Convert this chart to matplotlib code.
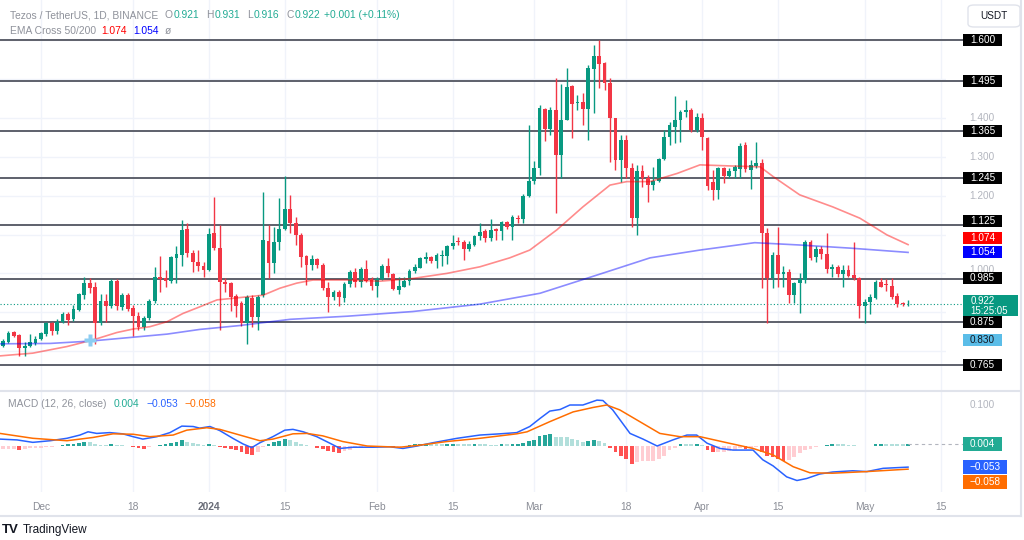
import matplotlib
matplotlib.use("Agg")
import matplotlib.pyplot as plt
import numpy as np
from matplotlib.patches import Rectangle, FancyBboxPatch
from matplotlib.lines import Line2D
from matplotlib.transforms import blended_transform_factory

# daily candles, 24 Nov 2023 .. 9 May 2024
opens = [
    0.814, 0.823, 0.849, 0.842, 0.809, 0.814, 0.820, 0.832, 0.843, 0.872,
    0.853, 0.876, 0.896, 0.882, 0.906, 0.944, 0.975, 0.964, 0.873, 0.930,
    0.917, 0.980, 0.914, 0.944, 0.910, 0.891, 0.863, 0.885, 0.929, 0.992,
    0.988, 0.980, 1.039, 1.047, 1.113, 1.053, 1.030, 1.019, 1.009, 1.103,
    1.066, 0.977, 0.975, 0.942, 0.924, 0.872, 0.938, 0.888, 0.944, 1.084,
    1.026, 1.082, 1.113, 1.165, 1.129, 1.100, 1.045, 1.022, 1.036, 1.022,
    0.962, 0.939, 0.953, 0.936, 0.973, 1.004, 0.979, 1.011, 0.985, 0.968,
    0.985, 1.019, 0.998, 0.957, 0.966, 0.980, 1.006, 1.015, 1.036, 1.041,
    1.033, 1.044, 1.045, 1.070, 1.082, 1.082, 1.062, 1.073, 1.095, 1.110,
    1.090, 1.115, 1.108, 1.131, 1.119, 1.142, 1.141, 1.200, 1.238, 1.270,
    1.422, 1.371, 1.420, 1.304, 1.394, 1.483, 1.437, 1.441, 1.423, 1.525,
    1.560, 1.540, 1.490, 1.399, 1.292, 1.343, 1.270, 1.142, 1.263, 1.244,
    1.227, 1.238, 1.294, 1.350, 1.377, 1.394, 1.414, 1.420, 1.369, 1.400,
    1.349, 1.236, 1.215, 1.270, 1.250, 1.262, 1.268, 1.330, 1.266, 1.277,
    1.283, 1.103, 0.987, 1.047, 0.998, 1.004, 0.944, 0.975, 0.983, 1.082,
    1.041, 1.064, 1.050, 1.011, 1.016, 0.998, 1.009, 0.996, 0.987, 0.916,
    0.926, 0.936, 0.979, 0.972, 0.968, 0.942, 0.924, 0.921]
highs = [
    0.831, 0.853, 0.852, 0.845, 0.824, 0.844, 0.838, 0.850, 0.875, 0.875,
    0.884, 0.900, 0.900, 0.920, 0.950, 0.992, 0.988, 0.978, 0.948, 0.948,
    0.985, 0.985, 0.950, 0.950, 0.918, 0.900, 0.891, 0.935, 1.017, 1.045,
    1.010, 1.045, 1.071, 1.137, 1.130, 1.060, 1.060, 1.030, 1.117, 1.196,
    1.124, 0.988, 0.979, 0.946, 0.928, 0.944, 0.945, 0.945, 1.210, 1.124,
    1.120, 1.193, 1.250, 1.201, 1.146, 1.104, 1.047, 1.047, 1.040, 1.026,
    0.979, 0.957, 0.957, 0.979, 1.009, 1.014, 1.017, 1.034, 0.992, 0.991,
    1.023, 1.039, 1.000, 0.991, 0.991, 1.011, 1.025, 1.042, 1.056, 1.044,
    1.052, 1.060, 1.073, 1.099, 1.094, 1.086, 1.083, 1.099, 1.130, 1.115,
    1.140, 1.118, 1.136, 1.136, 1.150, 1.150, 1.205, 1.381, 1.290, 1.433,
    1.425, 1.429, 1.502, 1.486, 1.527, 1.484, 1.459, 1.463, 1.536, 1.587,
    1.600, 1.544, 1.503, 1.400, 1.356, 1.356, 1.283, 1.279, 1.279, 1.253,
    1.274, 1.296, 1.369, 1.388, 1.456, 1.420, 1.446, 1.424, 1.412, 1.412,
    1.351, 1.266, 1.274, 1.274, 1.270, 1.278, 1.335, 1.339, 1.292, 1.339,
    1.295, 1.116, 1.056, 1.120, 1.020, 1.011, 0.979, 1.002, 1.086, 1.086,
    1.070, 1.070, 1.105, 1.024, 1.022, 1.022, 1.022, 1.082, 0.991, 0.934,
    0.946, 0.982, 0.987, 0.985, 0.987, 0.949, 0.926, 0.931]
lows = [
    0.812, 0.820, 0.837, 0.788, 0.788, 0.812, 0.816, 0.829, 0.840, 0.842,
    0.843, 0.872, 0.867, 0.878, 0.903, 0.935, 0.950, 0.818, 0.868, 0.875,
    0.912, 0.905, 0.905, 0.903, 0.839, 0.855, 0.855, 0.880, 0.925, 0.953,
    0.966, 0.975, 0.975, 1.019, 1.043, 1.004, 1.006, 0.990, 1.006, 1.060,
    0.855, 0.953, 0.904, 0.888, 0.865, 0.818, 0.862, 0.854, 0.940, 0.988,
    1.000, 1.060, 1.112, 1.104, 1.073, 1.017, 0.970, 1.009, 1.015, 0.957,
    0.902, 0.932, 0.916, 0.927, 0.966, 0.966, 0.966, 0.979, 0.957, 0.940,
    0.983, 0.992, 0.957, 0.947, 0.964, 0.970, 1.000, 1.013, 1.026, 1.026,
    1.013, 1.018, 1.025, 1.064, 1.074, 1.034, 1.058, 1.070, 1.087, 1.080,
    1.083, 1.085, 1.086, 1.115, 1.086, 1.130, 1.130, 1.197, 1.230, 1.253,
    1.340, 1.356, 1.155, 1.244, 1.394, 1.347, 1.420, 1.381, 1.343, 1.412,
    1.476, 1.471, 1.287, 1.266, 1.236, 1.244, 1.120, 1.099, 1.223, 1.184,
    1.214, 1.236, 1.292, 1.330, 1.334, 1.339, 1.403, 1.364, 1.364, 1.317,
    1.214, 1.189, 1.191, 1.232, 1.245, 1.245, 1.245, 1.261, 1.216, 1.272,
    0.962, 0.872, 0.962, 0.966, 0.966, 0.923, 0.923, 0.899, 0.975, 1.034,
    1.029, 1.038, 1.002, 0.990, 0.990, 0.964, 0.990, 0.983, 0.885, 0.872,
    0.895, 0.934, 0.964, 0.955, 0.935, 0.913, 0.916, 0.916]
closes = [
    0.826, 0.846, 0.840, 0.809, 0.814, 0.824, 0.831, 0.846, 0.873, 0.853,
    0.876, 0.896, 0.880, 0.908, 0.946, 0.976, 0.962, 0.873, 0.930, 0.917,
    0.980, 0.915, 0.944, 0.908, 0.891, 0.863, 0.885, 0.929, 0.992, 0.985,
    0.980, 1.041, 1.050, 1.112, 1.053, 1.030, 1.019, 1.009, 1.101, 1.066,
    0.979, 0.973, 0.940, 0.916, 0.872, 0.940, 0.888, 0.940, 1.086, 1.027,
    1.082, 1.113, 1.165, 1.129, 1.100, 1.043, 1.022, 1.036, 1.022, 0.962,
    0.940, 0.953, 0.939, 0.973, 1.004, 0.979, 1.011, 0.981, 0.968, 0.985,
    1.019, 1.000, 0.960, 0.968, 0.980, 1.007, 1.016, 1.039, 1.041, 1.033,
    1.047, 1.047, 1.070, 1.077, 1.081, 1.062, 1.075, 1.095, 1.107, 1.090,
    1.112, 1.108, 1.131, 1.119, 1.144, 1.140, 1.200, 1.238, 1.270, 1.424,
    1.371, 1.420, 1.304, 1.394, 1.480, 1.435, 1.440, 1.423, 1.527, 1.560,
    1.538, 1.489, 1.399, 1.292, 1.343, 1.270, 1.142, 1.263, 1.246, 1.227,
    1.238, 1.294, 1.350, 1.381, 1.394, 1.414, 1.420, 1.369, 1.403, 1.351,
    1.225, 1.215, 1.270, 1.250, 1.264, 1.273, 1.328, 1.268, 1.279, 1.283,
    1.103, 0.987, 1.047, 0.998, 1.004, 0.944, 0.975, 0.985, 1.082, 1.039,
    1.064, 1.050, 1.011, 1.017, 0.998, 1.009, 0.993, 0.987, 0.916, 0.927,
    0.939, 0.979, 0.966, 0.970, 0.940, 0.921, 0.921, 0.922]

# EMA lines, sampled at candle positions
ema50_idx = [-0.55, 5.5, 11.8, 16.6, 21.0, 24.0, 27.1, 30.3, 33.2, 36.3, 39.5, 42.4,
             48.0, 51.1, 54.2, 57.2, 63.5, 69.6, 75.6, 81.9, 88.0, 93.5, 97.2, 102.2,
             107.0, 112.0, 115.1, 119.4, 124.4, 128.6, 134.7, 139.7, 142.1, 147.0,
             153.1, 158.1, 163.1, 167]
ema50_val = [0.788, 0.795, 0.812, 0.829, 0.848, 0.857, 0.863, 0.876, 0.897, 0.914, 0.932, 0.936,
             0.944, 0.962, 0.975, 0.983, 0.983, 0.980, 0.987, 1.000, 1.017, 1.040, 1.060, 1.112,
             1.171, 1.227, 1.236, 1.236, 1.257, 1.279, 1.276, 1.274, 1.249, 1.202,
             1.171, 1.142, 1.099, 1.074]
ema200_idx = [-0.55, 8.7, 16.1, 24.0, 30.3, 36.3, 43.7, 53.0, 63.5, 75.6, 88.0, 99.1,
              110.1, 119.4, 128.6, 138.7, 147.0, 156.3, 167]
ema200_val = [0.819, 0.820, 0.826, 0.836, 0.844, 0.856, 0.866, 0.882, 0.890, 0.902, 0.921, 0.949,
              0.998, 1.040, 1.060, 1.079, 1.073, 1.065, 1.054]

levels = [1.600, 1.495, 1.365, 1.245, 1.125, 0.985, 0.875, 0.765]
price_ticks = [1.400, 1.300, 1.200, 1.000]

# MACD pane
macd_hist = [
    -0.009, -0.009, -0.008, -0.012, -0.009, -0.007, -0.006, -0.005, -0.004, -0.003,
    -0.002, 0.002, 0.004, 0.005, 0.007, 0.010, 0.010, 0.004, 0.002, 0.002,
    0.004, 0.001, 0.001, -0.002, -0.004, -0.007, -0.008, -0.004, -0.001, 0.002,
    0.004, 0.006, 0.008, 0.013, 0.009, 0.006, 0.004, 0.002, 0.004, 0.001,
    -0.003, -0.005, -0.008, -0.010, -0.015, -0.020, -0.023, -0.015, -0.003, 0.003,
    0.008, 0.012, 0.016, 0.015, 0.010, 0.004, 0.001, -0.002, -0.005, -0.009,
    -0.013, -0.016, -0.018, -0.014, -0.010, -0.006, -0.004, -0.002, -0.003, -0.002,
    -0.001, -0.003, -0.004, -0.003, -0.001, 0.002, 0.003, 0.004, 0.005, 0.005,
    0.004, 0.003, 0.004, 0.005, 0.004, 0.003, 0.003, 0.004, 0.004, 0.003,
    0.002, 0.002, 0.003, 0.003, 0.004, 0.005, 0.007, 0.011, 0.014, 0.023,
    0.027, 0.029, 0.021, 0.021, 0.020, 0.016, 0.014, 0.008, 0.012, 0.014,
    0.012, 0.006, -0.006, -0.016, -0.025, -0.033, -0.045, -0.041, -0.039, -0.038,
    -0.037, -0.033, -0.025, -0.012, -0.006, 0.004, 0.004, 0.003, 0.004, 0.001,
    -0.012, -0.016, -0.016, -0.015, -0.013, -0.010, -0.006, -0.008, -0.006, -0.004,
    -0.016, -0.025, -0.029, -0.033, -0.037, -0.035, -0.027, -0.019, -0.012, -0.008,
    -0.004, -0.002, 0.002, 0.003, 0.003, 0.003, 0.002, 0.001, -0.002, -0.002,
    -0.001, 0.003, 0.004, 0.004, 0.003, 0.003, 0.003, 0.004]
macd_idx = [-0.55, 2.6, 5.5, 8.7, 11.8, 14.2, 15.7, 17.3, 19.7, 22.1, 24.0, 25.8, 28.4,
            30.8, 33.0, 35.1, 36.3, 38.2, 40.0, 42.4, 44.3, 45.9, 47.4, 49.8, 52.0, 53.5,
            55.4, 57.9, 60.3, 62.2, 64.6, 68.3, 71.4, 73.8, 76.4, 79.3, 83.8, 88.0, 91.7,
            94.8, 97.2, 99.1, 100.9, 102.8, 104.6, 107.0, 109.6, 110.7, 112.5, 115.7,
            118.1, 120.7, 123.6, 126.2, 128.0, 129.9, 132.3, 134.7, 138.4, 140.2, 142.1,
            144.6, 146.5, 148.3, 150.7, 153.1, 156.8, 159.4, 162.4, 167]
macd_val = [0.016, 0.014, 0.008, 0.012, 0.018, 0.026, 0.034, 0.030, 0.032, 0.029, 0.022, 0.016, 0.022,
            0.032, 0.048, 0.047, 0.043, 0.047, 0.037, 0.018, 0.004, -0.005, 0.007, 0.022, 0.038, 0.040,
            0.034, 0.022, 0.006, -0.007, -0.004, -0.004, -0.003, -0.007, -0.001, 0.007, 0.018, 0.026, 0.029,
            0.032, 0.047, 0.067, 0.085, 0.089, 0.100, 0.100, 0.112, 0.111, 0.088, 0.030,
            0.016, -0.001, 0.014, 0.026, 0.026, 0.006, -0.007, -0.011, -0.011, -0.035, -0.050,
            -0.077, -0.086, -0.081, -0.070, -0.065, -0.062, -0.064, -0.056, -0.053]
signal_idx = [-0.55, 5.5, 11.8, 16.6, 20.3, 24.0, 27.1, 31.4, 33.9, 37.6, 40.0, 43.7, 47.4,
              49.8, 53.5, 56.1, 59.0, 62.7, 67.2, 73.2, 76.9, 81.9, 88.0, 94.8, 96.7, 100.9,
              105.2, 108.9, 111.4, 113.8, 117.5, 121.2, 124.9, 128.6, 133.6, 138.4, 142.1,
              145.8, 148.9, 153.1, 159.4, 167]
signal_val = [0.030, 0.018, 0.012, 0.020, 0.029, 0.028, 0.022, 0.026, 0.038, 0.044, 0.040, 0.026, 0.012,
              0.016, 0.029, 0.030, 0.024, 0.010, -0.001, -0.004, 0.001, 0.010, 0.018, 0.029, 0.034, 0.059,
              0.083, 0.094, 0.100, 0.088, 0.059, 0.030, 0.022, 0.022, 0.007, -0.007, -0.023,
              -0.052, -0.067, -0.068, -0.064, -0.058]

tick_pos = [7, 24, 38, 52, 69, 83, 98, 115, 129, 143, 159, 173]
tick_lbl = ["Dec", "18", "2024", "15", "Feb", "15", "Mar", "18", "Apr", "15", "May", "15"]

GREEN = "#089981"
RED = "#f23645"
GRAY = "#8f929b"
AXGRAY = "#b2b5be"

plt.rcParams["font.family"] = ["Liberation Sans", "DejaVu Sans"]

W, H = 1024, 540
fig = plt.figure(figsize=(W / 100, H / 100), dpi=100)
fig.patch.set_facecolor("white")

ax = fig.add_axes([0, 150 / H, 946 / W, 390 / H])
axm = fig.add_axes([0, 48 / H, 946 / W, 101 / H])
for a in (ax, axm):
    a.set_xlim(-0.55, 174.0)
    for s in a.spines.values():
        s.set_visible(False)
    a.set_yticks([])
    for t in tick_pos:
        a.axvline(t, color="#f0f3fa", lw=1, zorder=0)
ax.set_ylim(0.7003, 1.7028)
axm.set_ylim(-0.1143, 0.1345)
ax.set_xticks([])
for g in np.arange(0.8, 1.65, 0.1):
    ax.axhline(g, color="#f0f3fa", lw=1, zorder=0)

blend = blended_transform_factory(fig.transFigure, ax.transData)

# candles
o = np.array(opens); hi = np.array(highs); lo = np.array(lows); c = np.array(closes)
idx = np.arange(len(c))
cols = np.where(c >= o, GREEN, RED)
ax.vlines(idx, lo, hi, colors=cols, lw=1, zorder=3)
ax.bar(idx, np.maximum(np.abs(c - o), 0.0015), 0.7, bottom=np.minimum(o, c),
       color=cols, linewidth=0, zorder=4)

ax.plot(ema50_idx, ema50_val, color="#ff0000", alpha=0.45, lw=1.2, zorder=5)
ax.plot(ema200_idx, ema200_val, color="#0000ff", alpha=0.45, lw=1.2, zorder=5)
ax.plot(16, 0.830, marker="P", ms=9, color="#8ccdf2", mec="none", zorder=6)

for lv in levels:
    ax.plot([0, 963 / W], [lv, lv], transform=blend, color="#5d606b", lw=1.4,
            clip_on=False, zorder=2)
ax.plot([0, 963 / W], [0.922, 0.922], transform=blend, color=GREEN, lw=0.8,
        ls=(0, (1, 2)), clip_on=False, zorder=2)

# MACD histogram, colour by sign and direction like TradingView
hist = np.array(macd_hist)
hcols = []
for k, v in enumerate(hist):
    prev = hist[k - 1] if k else v
    if v >= 0:
        hcols.append("#26a69a" if v > prev else "#b2dfdb")
    else:
        hcols.append("#ff5252" if v < prev else "#ffcdd2")
axm.bar(idx, hist, 0.7, color=hcols, linewidth=0, zorder=2)
axm.plot(macd_idx, macd_val, color="#2962ff", lw=1.1, zorder=3)
axm.plot(signal_idx, signal_val, color="#ff6d00", lw=1.1, zorder=3)
blend_m = blended_transform_factory(fig.transFigure, axm.transData)
axm.plot([908 / W, 963 / W], [hist[-1], hist[-1]], transform=blend_m, color="#b2b5be",
         lw=0.8, ls=(0, (3, 3)), clip_on=False)

axm.set_xticks(tick_pos, tick_lbl)
axm.tick_params(axis="x", length=0, pad=7, labelsize=7.4, labelcolor="#8a8d96")
for t in axm.get_xticklabels():
    if t.get_text() == "2024":
        t.set_fontweight("bold")
        t.set_color("#6a6d78")


def ypix(a, v):
    return a.transData.transform((0, v))[1]


def tag(a, v, txt, fc, tc="white", dy=0, w=39, h=12):
    yc = ypix(a, v) + dy
    fig.patches.append(Rectangle((963 / W, (yc - h / 2) / H), w / W, h / H,
                                 transform=fig.transFigure, facecolor=fc,
                                 edgecolor="none", zorder=2))
    fig.text((963 + w / 2) / W, yc / H, txt, ha="center", va="center",
             color=tc, fontsize=7.2, zorder=3)


# 1.000 sits mostly behind the 0.985 tag, as on the reference
for v in price_ticks:
    fig.text(982 / W, (ypix(ax, v) + (3 if v == 1.0 else 0)) / H, f"{v:.3f}",
             ha="center", va="center", color=AXGRAY, fontsize=7.2, zorder=1)
shift = {1.125: 3.5, 0.985: 1}
for lv in levels:
    tag(ax, lv, f"{lv:.3f}", "#000000", dy=shift.get(lv, 0))
tag(ax, 1.074, "1.074", "#ff0000", dy=7)
tag(ax, 1.054, "1.054", "#0000ff")
tag(ax, 0.830, "0.830", "#5bbde8", tc="#131722")
# last price box with countdown
yc = ypix(ax, 0.922) - 2
fig.patches.append(Rectangle((963 / W, (yc - 10.5) / H), 55 / W, 21 / H, transform=fig.transFigure,
                             facecolor=GREEN, edgecolor="none", zorder=2))
fig.text(971 / W, (yc + 5) / H, "0.922", color="white", fontsize=7, va="center", zorder=3)
fig.text(970 / W, (yc - 5) / H, "15:25:05", color="white", fontsize=7, va="center", zorder=3)

fig.text(982 / W, ypix(axm, 0.100) / H, "0.100", ha="center", va="center", color=AXGRAY, fontsize=7.2)
tag(axm, 0.004, "0.004", "#22ab94", h=14)
tag(axm, -0.053, "\u22120.053", "#2962ff", w=44, h=14)
tag(axm, -0.058, "\u22120.058", "#ff6d00", w=44, h=14, dy=-12.5)

# frame and pane separator
fig.add_artist(Line2D([0, 1021 / W], [1 - 390.5 / H] * 2, color="#e0e3eb", lw=1.5))
fig.add_artist(Line2D([0, 1021 / W], [1 - 516 / H] * 2, color="#e0e3eb", lw=1.5))
fig.add_artist(Line2D([1021 / W] * 2, [1 - 516 / H, 1], color="#e0e3eb", lw=1.5))

fig.patches.append(FancyBboxPatch((968 / W, 1 - 27 / H), 52 / W, 22 / H,
                                  boxstyle="round,pad=0,rounding_size=0.006",
                                  transform=fig.transFigure, facecolor="white",
                                  edgecolor="#e0e3eb", lw=1))
fig.text(994 / W, 1 - 16 / H, "USDT", ha="center", va="center", color="#131722", fontsize=7.2)

renderer = fig.canvas.get_renderer()


def row(x, y, parts, size=7.4):
    for txt, col, gap in parts:
        t = fig.text(x / W, 1 - y / H, txt, color=col, fontsize=size, ha="left", va="center")
        x += t.get_window_extent(renderer).width + gap


TEAL = "#22ab94"
row(10, 15, [("Tezos / TetherUS, 1D, BINANCE", GRAY, 6), ("O", GRAY, 1), ("0.921", TEAL, 7),
             ("H", GRAY, 1), ("0.931", TEAL, 7), ("L", GRAY, 1), ("0.916", TEAL, 7),
             ("C", GRAY, 1), ("0.922", TEAL, 4), ("+0.001 (+0.11%)", TEAL, 0)])
row(10, 31, [("EMA Cross 50/200", GRAY, 5), ("1.074", "#ff0000", 7),
             ("1.054", "#0000ff", 6), ("\u00f8", GRAY, 0)])
row(8, 404, [("MACD (12, 26, close)", GRAY, 7), ("0.004", TEAL, 7),
             ("\u22120.053", "#2962ff", 7), ("\u22120.058", "#ff6d00", 0)])

fig.text(2 / W, 1 - 530 / H, "TV", fontsize=9.5, fontweight="bold", color="#131722", va="center")
fig.text(23 / W, 1 - 530 / H, "TradingView", fontsize=8.5, color="#131722", va="center")

fig.savefig("out.png", dpi=100, facecolor="white")
